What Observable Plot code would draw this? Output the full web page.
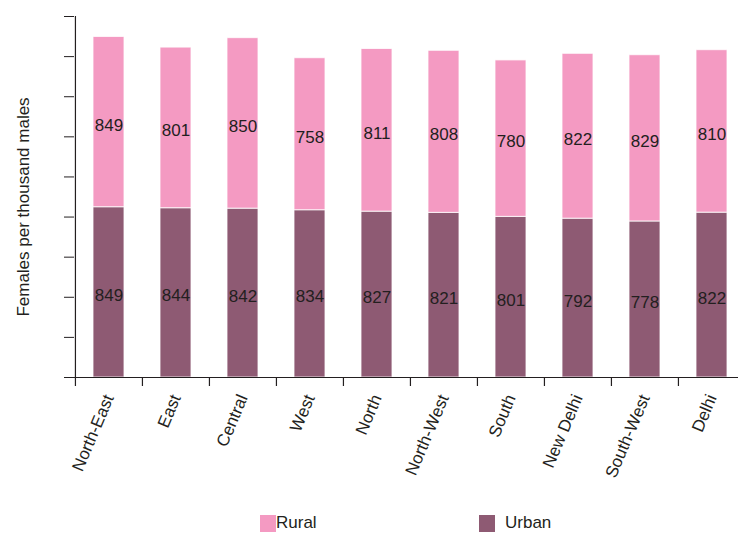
<!DOCTYPE html>
<html>
<head>
<meta charset="utf-8">
<script src="https://cdn.jsdelivr.net/npm/d3@7"></script>
<script src="https://cdn.jsdelivr.net/npm/@observablehq/plot@0.6"></script>
<style>
  html, body { margin: 0; padding: 0; background: #fff; }
  #wrap { width: 738px; }
  #legend { position: relative; width: 738px; height: 34px; font-family: "Liberation Sans", Arial, sans-serif; font-size: 17px; color: #231f20; }
  .sw { position: absolute; width: 16px; height: 17px; top: 15px; }
  .lb { position: absolute; top: 13px; line-height: 20px; }
</style>
</head>
<body>
<div id="wrap"></div>
<script>
const categories = ["North-East","East","Central","West","North","North-West","South","New Delhi","South-West","Delhi"];
const urban = [849, 844, 842, 834, 827, 821, 801, 792, 778, 822];
const rural = [849, 801, 850, 758, 811, 808, 780, 822, 829, 810];
const seriesNames = ["Rural", "Urban"];
const seriesColors = ["#f49ac2", "#8e5a73"];
const yTicks = [0, 200, 400, 600, 800, 1000, 1200, 1400, 1600, 1800];
const yLabel = "Females per thousand males";

const table = categories.flatMap((c, i) => [
  {category: c, type: "Urban", value: urban[i], y1: 0, y2: urban[i]},
  {category: c, type: "Rural", value: rural[i], y1: urban[i], y2: urban[i] + rural[i]}
]);

const step = (745.3 - 74) / categories.length;
const ink = "#231f20";

const chart = Plot.plot({
  width: 738,
  height: 500,
  marginLeft: 74,
  marginRight: 0,
  marginTop: 16,
  marginBottom: 123,
  style: {fontFamily: "'Liberation Sans', Arial, sans-serif", fontSize: "17px", color: ink, background: "#fff"},
  x: {domain: categories, range: [74, 745.3], paddingInner: 0.54, paddingOuter: 0.27, align: 0.5},
  y: {domain: [0, 1800]},
  color: {domain: seriesNames, range: seriesColors},
  marks: [
    Plot.barY(table, {x: "category", y1: "y1", y2: "y2", fill: "type", stroke: "#fff", strokeWidth: 1, strokeOpacity: 0.8}),
    Plot.text(table, {x: "category", y: d => (d.y1 + d.y2) / 2, text: d => String(d.value), fill: ink, fontSize: 17, dy: 3}),
    Plot.axisY({ticks: yTicks, tickSize: 10, tickFormat: () => "", label: null, stroke: ink}),
    Plot.axisX({tickSize: 0, tickRotate: -67, tickPadding: 18, label: null, fill: ink, fontSize: 17}),
    Plot.ruleX(categories, {x: d => d, y1: 0, y2: -45, dx: -step / 2, stroke: ink, strokeWidth: 1.2}),
    Plot.ruleX([categories[0]], {x: d => d, y1: 0, y2: 1800, dx: -step / 2, stroke: ink, strokeWidth: 1.2}),
    Plot.ruleY([0], {stroke: ink, strokeWidth: 1.2}),
    Plot.text([yLabel], {text: d => d, frameAnchor: "left", rotate: -90, dx: -51, dy: 10, textAnchor: "middle", fill: ink, fontSize: 17})
  ]
});

const wrap = document.getElementById("wrap");
wrap.appendChild(chart);

const legend = document.createElement("div");
legend.id = "legend";
const items = [
  {name: seriesNames[0], color: seriesColors[0], sx: 260, tx: 276},
  {name: seriesNames[1], color: seriesColors[1], sx: 479, tx: 505}
];
for (const it of items) {
  const sw = document.createElement("div");
  sw.className = "sw";
  sw.style.left = it.sx + "px";
  sw.style.background = it.color;
  const lb = document.createElement("div");
  lb.className = "lb";
  lb.style.left = it.tx + "px";
  lb.textContent = it.name;
  legend.appendChild(sw);
  legend.appendChild(lb);
}
wrap.appendChild(legend);
</script>
</body>
</html>
